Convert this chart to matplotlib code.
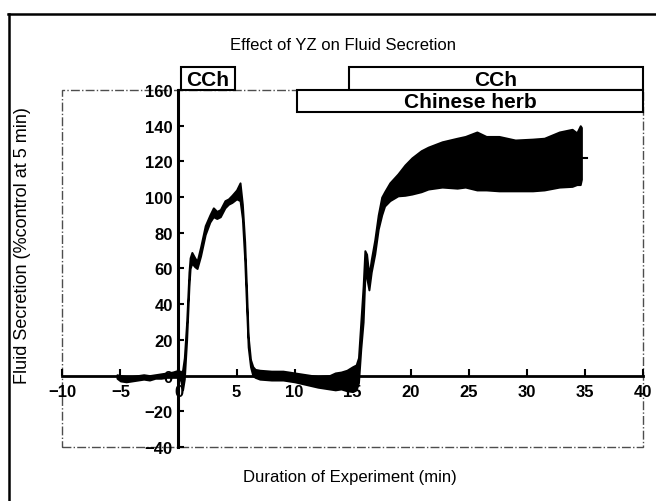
import matplotlib.pyplot as plt
from matplotlib.patches import Rectangle
import numpy as np

# trace: time (min), lower and upper edge of the noisy band (%)
t = [-5.3, -5.0, -4.5, -4.0, -3.5, -3.0, -2.5, -2.0, -1.5, -1.0, -0.5, 0.0, 0.2, 0.35,
     0.5, 0.7, 0.9, 1.0, 1.15, 1.4, 1.6, 1.9, 2.3, 2.7, 3.0, 3.3, 3.6, 4.0, 4.3, 4.6,
     5.0, 5.3, 5.5, 5.7, 5.85, 6.0, 6.2, 6.4, 6.6, 7.0, 8.0, 9.0, 10.0, 11.0, 12.0,
     13.0, 13.5, 14.0, 14.5, 15.0, 15.3, 15.5, 15.7, 15.9, 16.05, 16.2, 16.4, 16.6,
     16.9, 17.2, 17.5, 17.75, 18.2, 18.9, 19.5, 20.1, 20.9, 21.5, 22.7, 24.0, 24.7,
     25.7, 26.5, 27.6, 29.0, 30.5, 31.5, 32.8, 33.9, 34.3, 34.6, 34.7]
lower = [-1.5, -3, -3.5, -3, -2.5, -2, -2.5, -1.5, -1.5, -1, -1, -1, -3, -8,
         -2, 20, 50, 60, 63, 61, 60, 67, 79, 86, 89, 88, 89, 94, 96, 97,
         99, 98, 88, 65, 40, 16, 5, 0, -1, -2, -2.5, -2.5, -3.5, -5, -6.5,
         -7.5, -8, -7.5, -8.5, -9, -8, -4, 15, 30, 55, 55, 48, 58,
         68, 82, 90, 95, 98, 100.7, 101, 101.7, 103, 104.5, 105.6, 105, 105.6,
         104, 104, 103.5, 103.5, 103.5, 104, 105.6, 106, 107, 107, 110]
upper = [0.5, 0, -0.5, -0.5, 0, 0.5, 0, 0.5, 1, 1.5, 2, 3, 2, 3,
         10, 30, 58, 66, 69, 66, 64, 72, 84, 90, 94, 92, 93, 98, 99, 101,
         104, 108, 96, 75, 50, 22, 9, 5, 3.5, 3, 2.5, 2.5, 1.5, 0.5, -0.5,
         0, 1.5, 2, 3, 5, 6, 10, 30, 50, 70, 68, 56, 65,
         76, 90, 100, 103, 108, 113, 118, 122, 126, 128, 131, 133, 134,
         136.5, 134, 134, 132, 132.5, 133, 136.5, 138, 136, 140, 139]
tail_t = [34.7, 35.2]
tail_y = [122, 122]

xticks = [-10, -5, 0, 5, 10, 15, 20, 25, 30, 35, 40]
yticks = [-40, -20, 0, 20, 40, 60, 80, 100, 120, 140, 160]

narrow = ['Liberation Sans Narrow', 'Liberation Sans', 'DejaVu Sans']
arial = ['Liberation Sans', 'DejaVu Sans']

fig = plt.figure(figsize=(6.56, 5.02), dpi=100)
ax = fig.add_axes([0.0951, 0.1076, 0.885, 0.7111])

ax.fill_between(t, lower, upper, color='black', lw=1.4, edgecolor='black')
ax.plot(tail_t, tail_y, color='black', lw=1.5)

ax.set_xlim(-10, 40)
ax.set_ylim(-40, 160)
for s in ['top', 'right']:
    ax.spines[s].set_visible(False)
ax.spines['left'].set_position(('data', 0))
ax.spines['bottom'].set_position(('data', 0))
ax.spines['left'].set_linewidth(2.2)
ax.spines['bottom'].set_linewidth(2.0)
ax.set_xticks(xticks)
ax.set_yticks(yticks)
ax.tick_params(axis='x', direction='in', length=5, width=1.5, pad=6)
ax.tick_params(axis='y', direction='in', length=4, width=1.5, pad=4)
for lab in ax.get_xticklabels() + ax.get_yticklabels():
    lab.set_family(narrow)
    lab.set_fontweight('bold')
    lab.set_fontsize(12)

# dashed frame around plot area
ax.add_patch(Rectangle((0, 0), 1, 1, transform=ax.transAxes, fill=False,
                       ls='-.', lw=1.0, ec='0.3', clip_on=False))

# treatment boxes above the plot
boxes = [(0.2, 4.87, 160, 172.9, 'CCh'),
         (14.7, 40, 160, 172.9, 'CCh'),
         (10.2, 40, 147.6, 160, 'Chinese herb')]
for x0, x1, y0, y1, txt in boxes:
    ax.add_patch(Rectangle((x0, y0), x1 - x0, y1 - y0, fill=True, fc='white',
                           ec='black', lw=1.5, clip_on=False, zorder=5))
    ax.text((x0 + x1) / 2, (y0 + y1) / 2 - 0.3, txt, ha='center', va='center',
            fontsize=15, fontweight='bold', family=arial, zorder=6)

fig.text(0.523, 0.91, 'Effect of YZ on Fluid Secretion', ha='center', va='center',
         fontsize=12, family=narrow)
fig.text(0.534, 0.048, 'Duration of Experiment (min)', ha='center', va='center',
         fontsize=12, family=narrow)
fig.text(0.034, 0.51, 'Fluid Secretion (%control at 5 min)', ha='center', va='center',
         rotation=90, fontsize=13, family=arial)

# outer border (top and left edges)
fig.add_artist(plt.Line2D([0.0125, 1.0], [0.970, 0.970], color='black', lw=1.8))
fig.add_artist(plt.Line2D([0.0137, 0.0137], [0.0, 0.970], color='black', lw=1.8))

fig.savefig('out.png', dpi=100)
